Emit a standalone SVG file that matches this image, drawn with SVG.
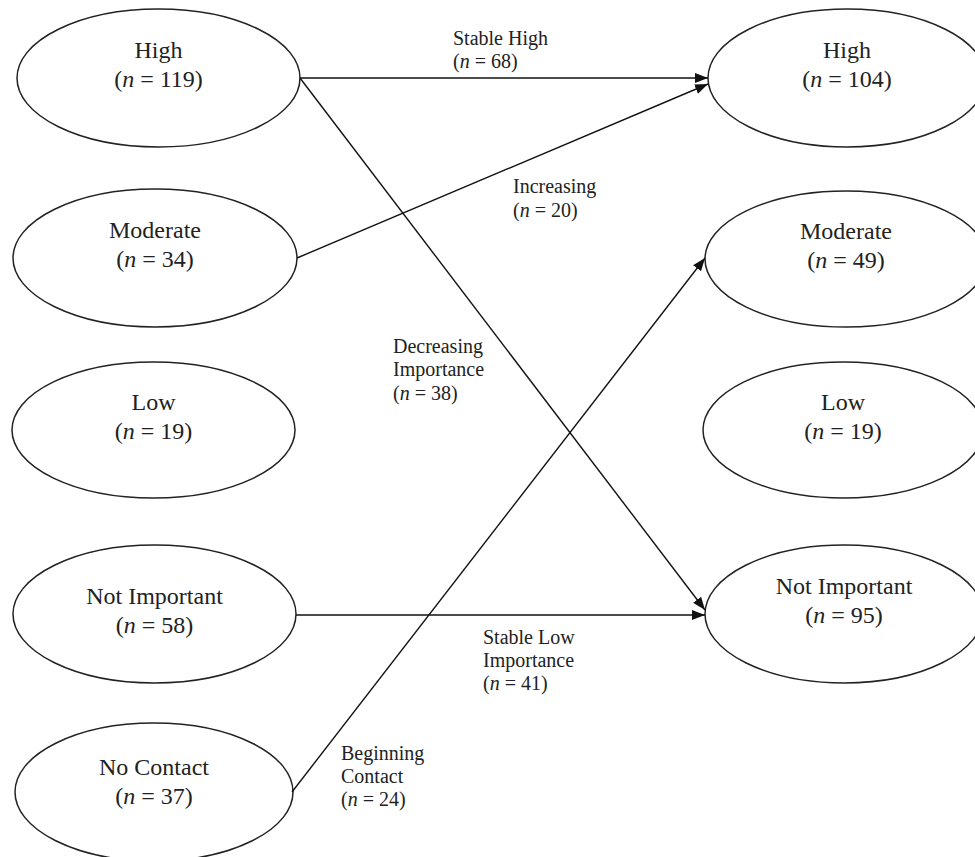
<svg xmlns="http://www.w3.org/2000/svg" width="975" height="857" viewBox="0 0 975 857">
<style>
.node ellipse{fill:#fff;stroke:#222;stroke-width:1.5}
.nt{font-family:"Liberation Serif","Times New Roman",serif;font-size:24px;fill:#222;text-anchor:middle}
.et{font-family:"Liberation Serif","Times New Roman",serif;font-size:20px;fill:#222}
.i{font-style:italic}
.conn line{stroke:#111;stroke-width:1.4;fill:none;marker-end:url(#ah)}
</style>
<defs>
<marker id="ah" markerUnits="userSpaceOnUse" markerWidth="14" markerHeight="12" viewBox="0 0 14 12" refX="13" refY="6" orient="auto">
<path d="M0,1 L13,6 L0,11 Z" fill="#111"/>
</marker>
</defs>
<g id="L-high" class="node"><ellipse cx="158.5" cy="78" rx="141.5" ry="69"/><text class="nt" x="158.5" y="58">High</text><text class="nt" x="158.5" y="87">(<tspan class="i">n</tspan> = 119)</text></g>
<g id="L-moderate" class="node"><ellipse cx="155" cy="258" rx="142" ry="69"/><text class="nt" x="155" y="238">Moderate</text><text class="nt" x="155" y="267">(<tspan class="i">n</tspan> = 34)</text></g>
<g id="L-low" class="node"><ellipse cx="153.5" cy="430" rx="141.5" ry="68"/><text class="nt" x="153.5" y="410">Low</text><text class="nt" x="153.5" y="439">(<tspan class="i">n</tspan> = 19)</text></g>
<g id="L-notimportant" class="node"><ellipse cx="154.5" cy="614" rx="141.5" ry="69"/><text class="nt" x="154.5" y="604">Not Important</text><text class="nt" x="154.5" y="633">(<tspan class="i">n</tspan> = 58)</text></g>
<g id="L-nocontact" class="node"><ellipse cx="154" cy="792" rx="139" ry="69"/><text class="nt" x="154" y="775">No Contact</text><text class="nt" x="154" y="804">(<tspan class="i">n</tspan> = 37)</text></g>
<g id="R-high" class="node"><ellipse cx="847" cy="78" rx="139" ry="69"/><text class="nt" x="847" y="58">High</text><text class="nt" x="847" y="87">(<tspan class="i">n</tspan> = 104)</text></g>
<g id="R-moderate" class="node"><ellipse cx="846" cy="259" rx="141" ry="68"/><text class="nt" x="846" y="239">Moderate</text><text class="nt" x="846" y="268">(<tspan class="i">n</tspan> = 49)</text></g>
<g id="R-low" class="node"><ellipse cx="843" cy="430" rx="140" ry="68"/><text class="nt" x="843" y="410">Low</text><text class="nt" x="843" y="439">(<tspan class="i">n</tspan> = 19)</text></g>
<g id="R-notimportant" class="node"><ellipse cx="844" cy="614" rx="139" ry="69"/><text class="nt" x="844" y="594">Not Important</text><text class="nt" x="844" y="623">(<tspan class="i">n</tspan> = 95)</text></g>
<g id="connectors" class="conn">
<line x1="300" y1="78" x2="708" y2="78"/>
<line x1="297" y1="258" x2="708" y2="84"/>
<line x1="300" y1="78" x2="705" y2="610"/>
<line x1="296" y1="615" x2="705" y2="615"/>
<line x1="292" y1="792" x2="705" y2="258"/>
</g>
<g id="edge-labels">
<text class="et" x="453" y="45">Stable High</text><text class="et" x="453" y="68">(<tspan class="i">n</tspan> = 68)</text>
<text class="et" x="513" y="193">Increasing</text><text class="et" x="513" y="217">(<tspan class="i">n</tspan> = 20)</text>
<text class="et" x="393" y="353">Decreasing</text><text class="et" x="393" y="376">Importance</text><text class="et" x="393" y="400">(<tspan class="i">n</tspan> = 38)</text>
<text class="et" x="483" y="644">Stable Low</text><text class="et" x="483" y="667">Importance</text><text class="et" x="483" y="690">(<tspan class="i">n</tspan> = 41)</text>
<text class="et" x="341" y="760">Beginning</text><text class="et" x="341" y="783">Contact</text><text class="et" x="341" y="806">(<tspan class="i">n</tspan> = 24)</text>
</g>
</svg>
